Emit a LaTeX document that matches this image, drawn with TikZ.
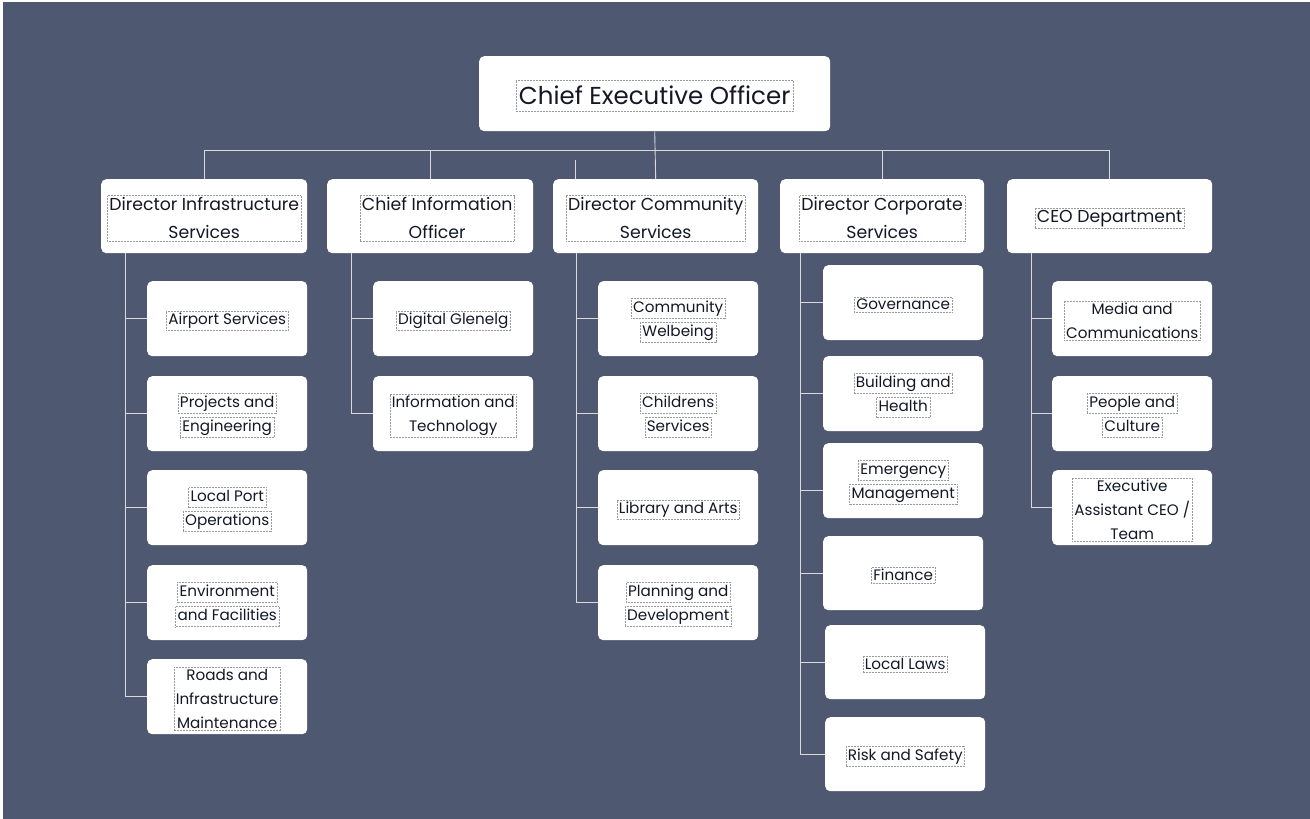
\documentclass[tikz,border=0pt]{standalone}
\usepackage{fontspec}
\setmainfont{Poppins}
\definecolor{bgc}{HTML}{4E5870}
\definecolor{linec}{HTML}{D9D9DE}
\definecolor{dotc}{HTML}{9A9A9A}
\definecolor{txtc}{HTML}{141826}
\tikzset{
  orgbox/.style={fill=white, draw=none, rounded corners=5pt, inner sep=0pt},
  lblbase/.style={draw=dotc, densely dotted, line width=0.5pt, text=txtc, align=center, inner sep=2.5pt},
  ceolbl/.style={lblbase, font=\fontsize{24.5}{30}\selectfont, inner xsep=3pt, inner ysep=6pt},
  dirlbl/.style={lblbase, font=\fontsize{17.3}{28}\selectfont, inner sep=2pt},
  clbl/.style={lblbase, font=\fontsize{15.2}{24}\selectfont, text height=12.5pt, text depth=4pt, inner sep=2pt},
  cmlbl/.style={lblbase, font=\fontsize{15.2}{24}\selectfont, inner sep=2pt},
  conn/.style={draw=linec, line width=0.9pt},
}
\newcommand\obox[5]{\node[orgbox, minimum width=#4pt, minimum height=#5pt, anchor=north west] (#1) at (#2,#3) {};}
\newcommand\onelbl[3]{\node[#2] (#1-t) at ([yshift=-2pt]#1.center) {#3};}
\newcommand\twolbl[3]{\node[clbl, anchor=base] (#1-a) at ([yshift=6pt]#1.center) {#2};
  \node[clbl, anchor=base] (#1-b) at ([yshift=-18pt]#1.center) {#3};}
\begin{document}
\begin{tikzpicture}[x=1pt,y=-1pt]
\useasboundingbox (0,0) rectangle (1310,819);
\fill[white] (0,0) rectangle (1310,819);
\fill[bgc] (3,2) rectangle (1310,819);

% top level
\obox{ceo}{479}{56}{351}{75}
\onelbl{ceo}{ceolbl}{Chief Executive Officer}

% directors
\obox{infra}{101}{179}{206}{74}
\onelbl{infra}{dirlbl}{Director Infrastructure\\Services}
\obox{cio}{327}{179}{206}{74}
\node[dirlbl] (cio-t) at ([xshift=7pt,yshift=-2pt]cio.center) {Chief Information\\Officer};
\obox{comm}{553}{179}{205}{74}
\onelbl{comm}{dirlbl}{Director Community\\Services}
\obox{corp}{780}{179}{204}{74}
\onelbl{corp}{dirlbl}{Director Corporate\\Services}
\obox{ceod}{1007}{179}{205}{74}
\onelbl{ceod}{dirlbl}{CEO Department}

% infrastructure children
\obox{air}{147}{281}{160}{75}
\onelbl{air}{cmlbl}{Airport Services}
\obox{proj}{147}{376}{160}{75}
\twolbl{proj}{Projects and}{Engineering}
\obox{port}{147}{470}{160}{75}
\twolbl{port}{Local Port}{Operations}
\obox{env}{147}{565}{160}{75}
\twolbl{env}{Environment}{and Facilities}
\obox{roads}{147}{659}{160}{75}
\onelbl{roads}{cmlbl}{Roads and\\Infrastructure\\Maintenance}

% CIO children
\obox{dig}{373}{281}{160}{75}
\onelbl{dig}{cmlbl}{Digital Glenelg}
\obox{it}{373}{376}{160}{75}
\onelbl{it}{cmlbl}{Information and\\Technology}

% community children
\obox{wel}{598}{281}{160}{75}
\twolbl{wel}{Community}{Welbeing}
\obox{child}{598}{376}{160}{75}
\twolbl{child}{Childrens}{Services}
\obox{lib}{598}{470}{160}{75}
\onelbl{lib}{cmlbl}{Library and Arts}
\obox{plan}{598}{565}{160}{75}
\twolbl{plan}{Planning and}{Development}

% corporate children
\obox{gov}{823}{265}{160}{75}
\onelbl{gov}{cmlbl}{Governance}
\obox{build}{823}{356}{160}{75}
\twolbl{build}{Building and}{Health}
\obox{emer}{823}{443}{160}{75}
\twolbl{emer}{Emergency}{Management}
\obox{fin}{823}{536}{160}{74}
\onelbl{fin}{cmlbl}{Finance}
\obox{laws}{825}{625}{160}{74}
\onelbl{laws}{cmlbl}{Local Laws}
\obox{risk}{825}{717}{160}{74}
\onelbl{risk}{cmlbl}{Risk and Safety}

% CEO department children
\obox{media}{1052}{281}{160}{75}
\onelbl{media}{cmlbl}{Media and\\Communications}
\obox{people}{1052}{376}{160}{75}
\twolbl{people}{People and}{Culture}
\obox{exec}{1052}{470}{160}{75}
\onelbl{exec}{cmlbl}{Executive\\Assistant CEO /\\Team}

% connectors: top level
\coordinate (bus) at (654,150);
\draw[conn] (ceo.south) -- (comm.north);
\draw[conn] (infra.north) -- (infra.north |- bus) -- (ceod.north |- bus) -- (ceod.north);
\draw[conn] (cio.north) -- (cio.north |- bus);
\draw[conn] (corp.north) -- (corp.north |- bus);
\coordinate (stub) at (575.5,160);
\draw[conn] (stub) -- (stub |- comm.north);

% trunks
\coordinate (infraT) at ([xshift=24pt]infra.south west);
\coordinate (cioT) at ([xshift=24pt]cio.south west);
\coordinate (commT) at ([xshift=23pt]comm.south west);
\coordinate (corpT) at ([xshift=20pt]corp.south west);
\coordinate (ceodT) at ([xshift=24pt]ceod.south west);

\draw[conn] (infraT) |- (roads.west);
\foreach \c in {air,proj,port,env} \draw[conn] (\c.west) -- (\c.west -| infraT);
\draw[conn] (cioT) |- (it.west);
\draw[conn] (dig.west) -- (dig.west -| cioT);
\draw[conn] (commT) |- (plan.west);
\foreach \c in {wel,child,lib} \draw[conn] (\c.west) -- (\c.west -| commT);
\draw[conn] (corpT) |- (risk.west);
\foreach \c in {gov,build,fin,laws} \draw[conn] (\c.west) -- (\c.west -| corpT);
\coordinate (emerJ) at ([yshift=-10pt]emer.west);
\draw[conn] (emerJ) -- (emerJ -| corpT);
\draw[conn] (ceodT) |- (exec.west);
\foreach \c in {media,people} \draw[conn] (\c.west) -- (\c.west -| ceodT);
\end{tikzpicture}
\end{document}
